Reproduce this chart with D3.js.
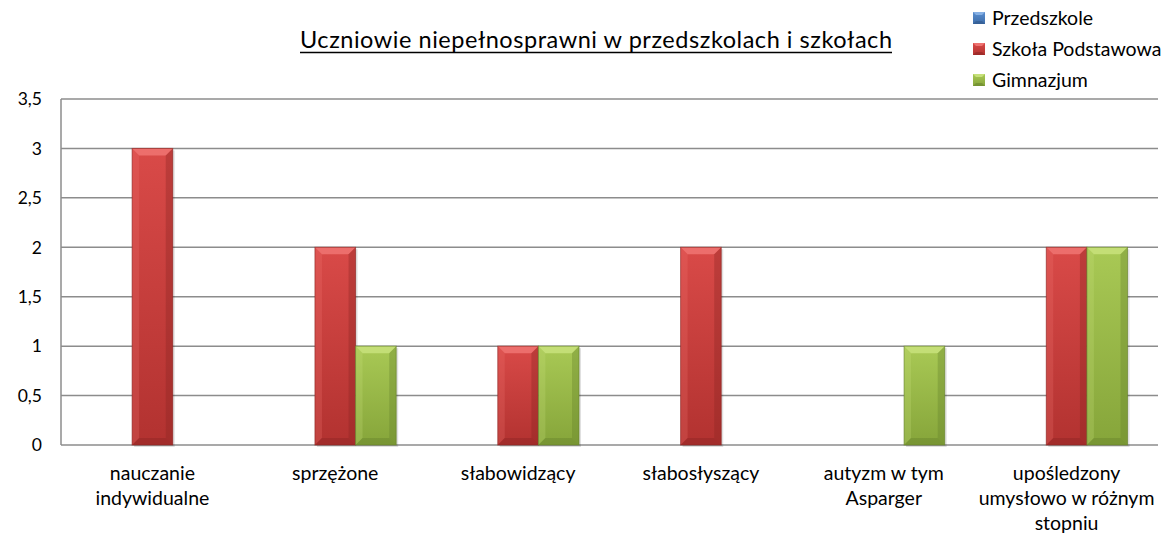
<!DOCTYPE html>
<html>
<head>
<meta charset="utf-8">
<script src="https://cdn.jsdelivr.net/npm/d3@7"></script>
<style>
  html, body { margin: 0; padding: 0; background: #fff; }
  svg { display: block; font-family: Lato, 'Open Sans', sans-serif; }
</style>
</head>
<body>
<svg width="1168" height="537"></svg>
<script>
const categories = [
  ['nauczanie', 'indywidualne'],
  ['sprzężone'],
  ['słabowidzący'],
  ['słabosłyszący'],
  ['autyzm w tym', 'Asparger'],
  ['upośledzony', 'umysłowo w różnym', 'stopniu']
];
const seriesNames = ['Przedszkole', 'Szkoła Podstawowa', 'Gimnazjum'];
const przedszkole = [0, 0, 0, 0, 0, 0];
const szkolaPodstawowa = [3, 2, 1, 2, 0, 2];
const gimnazjum = [0, 1, 1, 0, 1, 2];
const yTicks = [0, 0.5, 1, 1.5, 2, 2.5, 3, 3.5];
const title = 'Uczniowie niepełnosprawni w przedszkolach i szkołach';

(function() {
  let svg = d3.select('svg');
  let margin = {left: 61, right: 10, top: 99, bottom: 92};
  let width = +svg.attr('width'), height = +svg.attr('height');

  // face colours per series: top, bottom, bevel light, bevel dark
  let palette = [
    {top: '#5b8fd0', bot: '#3d6ca8', light: '#86b0e4', dark: '#2e5486'},
    {top: '#d94a48', bot: '#b23230', light: '#ee7270', dark: '#8a2422'},
    {top: '#a9c955', bot: '#86a53a', light: '#c6e07a', dark: '#64802a'}
  ];
  let values = [przedszkole, szkolaPodstawowa, gimnazjum];

  let defs = svg.append('defs');
  palette.forEach(function(p, i) {
    let g = defs.append('linearGradient').attr('id', 'face' + i)
      .attr('x1', 0).attr('y1', 0).attr('x2', 0).attr('y2', 1);
    g.append('stop').attr('offset', '0%').attr('stop-color', p.top);
    g.append('stop').attr('offset', '100%').attr('stop-color', p.bot);
  });

  let x0 = d3.scaleBand()
    .domain(d3.range(categories.length))
    .range([margin.left, width - margin.right]);
  let x1 = d3.scaleBand()
    .domain(d3.range(seriesNames.length))
    .range([0, x0.bandwidth()])
    .paddingOuter(0.75);
  let y = d3.scaleLinear()
    .domain([0, 3.5])
    .range([height - margin.bottom, margin.top]);

  // gridlines
  svg.append('g')
    .selectAll('line')
    .data(yTicks.slice(1))
    .enter().append('line')
    .attr('x1', margin.left).attr('x2', width - margin.right)
    .attr('y1', function(d) { return y(d); })
    .attr('y2', function(d) { return y(d); })
    .attr('stroke', '#8c8c8c').attr('stroke-width', 1.5);

  // axes lines
  svg.append('line')
    .attr('x1', margin.left).attr('x2', margin.left)
    .attr('y1', y(3.5)).attr('y2', y(0))
    .attr('stroke', '#8c8c8c').attr('stroke-width', 1.5);
  svg.append('line')
    .attr('x1', margin.left).attr('x2', width - margin.right)
    .attr('y1', y(0)).attr('y2', y(0))
    .attr('stroke', '#8c8c8c').attr('stroke-width', 1.5);

  // y tick labels
  svg.append('g')
    .selectAll('text')
    .data(yTicks)
    .enter().append('text')
    .attr('x', 42)
    .attr('y', function(d) { return y(d); })
    .attr('dy', '0.36em')
    .attr('text-anchor', 'end')
    .attr('font-size', 17.5)
    .attr('fill', '#000')
    .text(function(d) { return String(d).replace('.', ','); });

  // bars with bevel
  function bevelBar(g, x, yTop, w, h, s) {
    let p = palette[s], b = Math.min(7, h / 2);
    g.append('rect').attr('x', x + 2).attr('y', yTop + 2).attr('width', w).attr('height', h)
      .attr('fill', 'rgba(0,0,0,0.12)');
    g.append('rect').attr('x', x).attr('y', yTop).attr('width', w).attr('height', h)
      .attr('fill', 'url(#face' + s + ')');
    let pts = function(a) { return a.map(function(q) { return q.join(','); }).join(' '); };
    g.append('polygon')
      .attr('points', pts([[x, yTop], [x + w, yTop], [x + w - b, yTop + b], [x + b, yTop + b]]))
      .attr('fill', p.light).attr('opacity', 0.9);
    g.append('polygon')
      .attr('points', pts([[x, yTop], [x + b, yTop + b], [x + b, yTop + h - b], [x, yTop + h]]))
      .attr('fill', p.light).attr('opacity', 0.25);
    g.append('polygon')
      .attr('points', pts([[x + w, yTop], [x + w - b, yTop + b], [x + w - b, yTop + h - b], [x + w, yTop + h]]))
      .attr('fill', p.dark).attr('opacity', 0.35);
    g.append('polygon')
      .attr('points', pts([[x, yTop + h], [x + b, yTop + h - b], [x + w - b, yTop + h - b], [x + w, yTop + h]]))
      .attr('fill', p.dark).attr('opacity', 0.4);
    g.append('rect').attr('x', x).attr('y', yTop).attr('width', w).attr('height', h)
      .attr('fill', 'none').attr('stroke', p.dark).attr('stroke-opacity', 0.6).attr('stroke-width', 1);
  }

  let bars = svg.append('g');
  categories.forEach(function(c, i) {
    values.forEach(function(vals, s) {
      let v = vals[i];
      if (!v) return;
      bevelBar(bars, x0(i) + x1(s), y(v), x1.bandwidth(), y(0) - y(v), s);
    });
  });

  // category labels
  let labels = svg.append('g')
    .selectAll('text')
    .data(categories)
    .enter().append('text')
    .attr('text-anchor', 'middle')
    .attr('font-size', 19.5)
    .attr('fill', '#000');
  labels.each(function(lines, i) {
    let t = d3.select(this);
    lines.forEach(function(l, k) {
      t.append('tspan')
        .attr('x', x0(i) + x0.bandwidth() / 2)
        .attr('y', 480 + k * 25)
        .text(l);
    });
  });

  // title
  svg.append('text')
    .attr('x', 300).attr('y', 48)
    .attr('font-size', 23.5)
    .attr('textLength', 592)
    .attr('lengthAdjust', 'spacing')
    .attr('fill', '#000')
    .text(title);
  svg.append('line')
    .attr('x1', 300).attr('x2', 892)
    .attr('y1', 52.5).attr('y2', 52.5)
    .attr('stroke', '#000').attr('stroke-width', 1.5);

  // legend
  let legend = svg.append('g')
    .selectAll('g')
    .data(seriesNames)
    .enter().append('g')
    .attr('transform', function(d, i) { return 'translate(973,' + (18 + i * 31) + ')'; });
  legend.each(function(d, s) {
    let g = d3.select(this), p = palette[s];
    g.append('rect').attr('x', 0).attr('y', -6).attr('width', 12).attr('height', 12)
      .attr('fill', 'url(#face' + s + ')');
    g.append('polygon').attr('points', '0,-6 12,-6 9,-3 3,-3').attr('fill', p.light);
    g.append('polygon').attr('points', '0,6 12,6 9,3 3,3').attr('fill', p.dark).attr('opacity', 0.5);
  });
  legend.append('text')
    .attr('x', 19).attr('y', 0).attr('dy', '0.36em')
    .attr('font-size', 19.5)
    .attr('fill', '#000')
    .text(function(d) { return d; });
})();
</script>
</body>
</html>
